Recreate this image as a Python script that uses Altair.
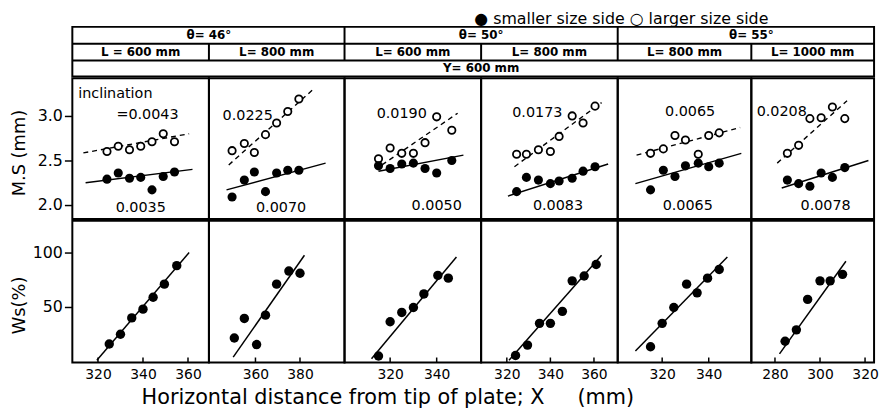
import altair as alt
import pandas as pd

FONT = "DejaVu Sans"

# ---------------- header table ----------------
THETA_LABELS = ["θ= 46°", "θ= 50°", "θ= 55°"]
L_LABELS = ["L = 600 mm", "L= 800 mm", "L= 600  mm", "L= 800 mm", "L= 800 mm", "L= 1000 mm"]
Y_LABEL = "Y= 600 mm"
LEGEND_TEXT = "● smaller size side   ○ larger size side"

# ---------------- panels ----------------
PANEL_W = [138, 137, 138, 138, 135, 124]
TOP_H = 142
BOT_H = 143
X_DOMAINS = [[308.6, 369.3], [339.1, 400.0], [300.4, 359.1],
             [308.2, 370.9], [300.9, 358.3], [269.5, 324.0]]
X_TICKS = [[320, 340, 360], [360, 380], [320, 340], [320, 340, 360], [320, 340], [280, 300, 320]]
MS_DOMAIN = [1.844, 3.422]
WS_DOMAIN = [-0.9, 129.1]

# M.S (mm)
MS_X = [
    [324, 329, 334, 339, 344, 349, 354],
    [349.5, 355, 359.5, 364.5, 369.5, 374.5, 379.5],
    [315, 320, 325, 330, 335, 340, 346.5],
    [324.5, 329, 334.5, 340, 344, 350, 355, 360.5],
    [315, 320.5, 325.5, 330, 335.5, 340, 344.5],
    [285.5, 290.5, 295.5, 300.5, 305.5, 311],
]
MS_OPEN = [
    [2.60, 2.66, 2.62, 2.66, 2.71, 2.80, 2.71],
    [2.61, 2.69, 2.59, 2.79, 2.92, 3.05, 3.19],
    [2.52, 2.64, 2.58, 2.58, 2.70, 2.99, 2.84],
    [2.57, 2.57, 2.62, 2.60, 2.77, 3.00, 2.92, 3.11],
    [2.58, 2.63, 2.78, 2.73, 2.57, 2.78, 2.81],
    [2.58, 2.67, 2.97, 2.98, 3.10, 2.97],
]
MS_FILLED = [
    [2.29, 2.36, 2.30, 2.31, 2.17, 2.32, 2.37],
    [2.09, 2.28, 2.37, 2.15, 2.36, 2.39, 2.39],
    [2.44, 2.41, 2.46, 2.47, 2.41, 2.36, 2.50],
    [2.15, 2.31, 2.28, 2.24, 2.27, 2.30, 2.38, 2.43],
    [2.17, 2.39, 2.32, 2.44, 2.47, 2.43, 2.47],
    [2.28, 2.24, 2.21, 2.36, 2.31, 2.42],
]
OPEN_FIT_X = [[313.5, 360.5], [348, 386], [316.5, 349], [323.5, 363.5], [309, 353.5], [281, 312]]
OPEN_FIT_Y = [[2.585, 2.80], [2.45, 3.30], [2.45, 3.03], [2.43, 3.15], [2.56, 2.87], [2.47, 3.17]]
FILLED_FIT_X = [[314.5, 362], [347, 391.5], [315, 351.5], [320.5, 366.5], [308.5, 354], [283, 321.5]]
FILLED_FIT_Y = [[2.25, 2.40], [2.17, 2.47], [2.38, 2.56], [2.10, 2.46], [2.24, 2.58], [2.19, 2.50]]

# Ws (%)
WS_X = [
    [325, 330, 335, 340, 344.5, 349.5, 355],
    [350.5, 355, 360.5, 364.5, 369.5, 375, 380],
    [315, 320, 325, 330, 334.5, 340.5, 345],
    [324, 329.5, 335, 340, 345.5, 350, 355.5, 361],
    [315, 320, 325, 330.5, 335, 339.5, 344.5],
    [284.5, 289.5, 294.5, 300, 304.5, 310],
]
WS = [
    [16, 25, 40, 48, 59, 71, 88],
    [21.5, 39.5, 15.5, 42.5, 71, 83, 81],
    [5, 36.5, 45, 49.5, 62, 79, 76.5],
    [5.5, 15, 35, 35, 46, 74, 78.5, 89],
    [13.5, 35, 49.5, 71, 63, 76.5, 84.5],
    [18.5, 29, 57, 74, 74, 80],
]
WS_FIT_X = [[319.5, 360.5], [350, 382], [312, 348.5], [321, 363.5], [308.5, 348], [282, 311.5]]
WS_FIT_Y = [[1, 100], [4, 97.5], [2.5, 96], [1, 97.5], [9.5, 96], [7, 92]]

# inclination annotations
INCL_TOP = ["=0.0043", "0.0225", "0.0190", "0.0173", "0.0065", "0.0208"]
INCL_TOP_X = [342, 356.5, 325, 334, 332, 283]
INCL_TOP_Y = [3.01, 3.00, 3.02, 3.03, 3.04, 3.04]
INCL_BOT = ["0.0035", "0.0070", "0.0050", "0.0083", "0.0065", "0.0078"]
INCL_BOT_X = [339, 371.5, 340, 343.5, 331, 302.5]
INCL_BOT_Y = [1.967, 1.967, 1.985, 1.985, 1.993, 1.993]

# ---------------- header chart ----------------
cum = [0]
for w in PANEL_W:
    cum.append(cum[-1] + w)
HEAD_ROWS = [0, 17, 34, 50]
hx = alt.Scale(domain=list(range(7)), range=cum, nice=False, zero=False)
hy = alt.Scale(domain=[0, 1, 2, 3], range=HEAD_ROWS, nice=False, zero=False)

head_text = pd.DataFrame({
    "text": THETA_LABELS + L_LABELS + [Y_LABEL],
    "x": [1, 3, 5] + [0.5, 1.5, 2.5, 3.5, 4.5, 5.5] + [3],
    "y": [0.5] * 3 + [1.5] * 6 + [2.5],
})
head_lines = pd.DataFrame({
    "x": [0, 0, 2, 4, 1, 3, 5],
    "x2": [6, 6, 2, 4, 1, 3, 5],
    "y": [1, 2, 0, 0, 1, 1, 1],
    "y2": [1, 2, 2, 2, 2, 2, 2],
})
legend_df = pd.DataFrame({"text": [LEGEND_TEXT], "x": [2.95], "y": [-0.16]})

hdr_rules = alt.Chart(head_lines).mark_rule(color="black", strokeWidth=2).encode(
    x=alt.X("x:Q", scale=hx, axis=None), x2="x2:Q",
    y=alt.Y("y:Q", scale=hy, axis=None), y2="y2:Q")
hdr_text = alt.Chart(head_text).mark_text(font=FONT, fontSize=12, fontWeight="bold",
                                          color="black").encode(
    x=alt.X("x:Q", scale=hx, axis=None), y=alt.Y("y:Q", scale=hy, axis=None), text="text:N")
hdr_legend = alt.Chart(legend_df).mark_text(font=FONT, fontSize=16, align="left",
                                            baseline="alphabetic", color="black").encode(
    x=alt.X("x:Q", scale=hx, axis=None), y=alt.Y("y:Q", scale=hy, axis=None), text="text:N")
header = alt.layer(hdr_rules, hdr_text, hdr_legend).properties(width=cum[-1], height=HEAD_ROWS[-1])


def yaxis(values, fmt, title, title_y):
    return alt.Axis(values=values, format=fmt, title=title, domain=False, grid=False,
                    tickSize=8, tickColor="black", tickWidth=1.5, labelFontSize=16,
                    labelColor="black", labelFont=FONT, labelPadding=2,
                    titleFont=FONT, titleFontSize=18, titleFontWeight="normal",
                    titleColor="black", titleAngle=270, titleAlign="center",
                    titleBaseline="middle", titleX=-53, titleY=title_y)


def top_panel(i):
    xs = alt.Scale(domain=X_DOMAINS[i], nice=False, zero=False)
    ys = alt.Scale(domain=MS_DOMAIN, nice=False, zero=False)
    ax = yaxis([2.0, 2.5, 3.0], ".1f", "M.S (mm)", 75) if i == 0 else None
    X = lambda f: alt.X(f, scale=xs, axis=None)
    Y = lambda f: alt.Y(f, scale=ys, axis=ax)
    pts = pd.DataFrame({"x": MS_X[i], "open": MS_OPEN[i], "filled": MS_FILLED[i]})
    ofit = pd.DataFrame({"x": OPEN_FIT_X[i], "y": OPEN_FIT_Y[i]})
    ffit = pd.DataFrame({"x": FILLED_FIT_X[i], "y": FILLED_FIT_Y[i]})
    ann = pd.DataFrame({"text": [INCL_TOP[i], INCL_BOT[i]],
                        "x": [INCL_TOP_X[i], INCL_BOT_X[i]],
                        "y": [INCL_TOP_Y[i], INCL_BOT_Y[i]]})
    layers = [
        alt.Chart(ofit).mark_line(color="black", strokeWidth=1.4, strokeDash=[5, 4], clip=True)
        .encode(x=X("x:Q"), y=Y("y:Q")),
        alt.Chart(ffit).mark_line(color="black", strokeWidth=1.5, clip=True)
        .encode(x=X("x:Q"), y=Y("y:Q")),
        alt.Chart(pts).mark_point(shape="circle", filled=True, fill="white", stroke="black",
                                  strokeWidth=1.8, size=55, opacity=1)
        .encode(x=X("x:Q"), y=Y("open:Q")),
        alt.Chart(pts).mark_circle(color="black", size=85, opacity=1)
        .encode(x=X("x:Q"), y=Y("filled:Q")),
        alt.Chart(ann).mark_text(font=FONT, fontSize=14.5, color="black")
        .encode(x=X("x:Q"), y=Y("y:Q"), text="text:N"),
    ]
    if i == 0:
        inc = pd.DataFrame({"text": ["inclination"], "x": [311.2], "y": [3.244]})
        layers.append(alt.Chart(inc).mark_text(font=FONT, fontSize=14.5, align="left",
                                               color="black")
                      .encode(x=X("x:Q"), y=Y("y:Q"), text="text:N"))
    return alt.layer(*layers).properties(width=PANEL_W[i], height=TOP_H)


def bottom_panel(i):
    xs = alt.Scale(domain=X_DOMAINS[i], nice=False, zero=False)
    ys = alt.Scale(domain=WS_DOMAIN, nice=False, zero=False)
    ax = yaxis([50, 100], "d", "Ws(%)", 85) if i == 0 else None
    xax = alt.Axis(values=X_TICKS[i], format="d", title=None, domain=False, ticks=False,
                   grid=False, labelFontSize=14, labelFont=FONT, labelColor="black",
                   labelPadding=5)
    X = lambda f: alt.X(f, scale=xs, axis=xax)
    Y = lambda f: alt.Y(f, scale=ys, axis=ax)
    pts = pd.DataFrame({"x": WS_X[i], "y": WS[i]})
    fit = pd.DataFrame({"x": WS_FIT_X[i], "y": WS_FIT_Y[i]})
    ticks = pd.DataFrame({"x": X_TICKS[i], "y0": [WS_DOMAIN[0]] * len(X_TICKS[i]),
                          "y1": [WS_DOMAIN[0] + 4.5] * len(X_TICKS[i])})
    layers = [
        alt.Chart(ticks).mark_rule(color="black", strokeWidth=1.5)
        .encode(x=X("x:Q"), y=Y("y0:Q"), y2="y1:Q"),
        alt.Chart(fit).mark_line(color="black", strokeWidth=1.5, clip=True)
        .encode(x=X("x:Q"), y=Y("y:Q")),
        alt.Chart(pts).mark_circle(color="black", size=90, opacity=1)
        .encode(x=X("x:Q"), y=Y("y:Q")),
    ]
    return alt.layer(*layers).properties(width=PANEL_W[i], height=BOT_H)


tops = alt.hconcat(*[top_panel(i) for i in range(6)], spacing=0, bounds="flush").resolve_scale(
    x="independent", y="independent")
bots = alt.hconcat(*[bottom_panel(i) for i in range(6)], spacing=0, bounds="flush").resolve_scale(
    x="independent", y="independent")

XTITLE = "Horizontal distance from tip of plate; X" + "\u00a0" * 5 + "(mm)"

chart = alt.vconcat(header, tops, bots, spacing=0).resolve_scale(
    x="independent", y="independent").properties(
    title=alt.TitleParams(
        text=XTITLE, orient="bottom", anchor="start", dx=133, offset=5, fontSize=21,
        fontWeight="normal", font=FONT, color="black"),
    padding={"left": 2, "top": 0, "right": 0, "bottom": 0},
).configure(font=FONT).configure_view(stroke="black", strokeWidth=2)

chart.save("out.html", embed_options={"renderer": "svg", "actions": False})
